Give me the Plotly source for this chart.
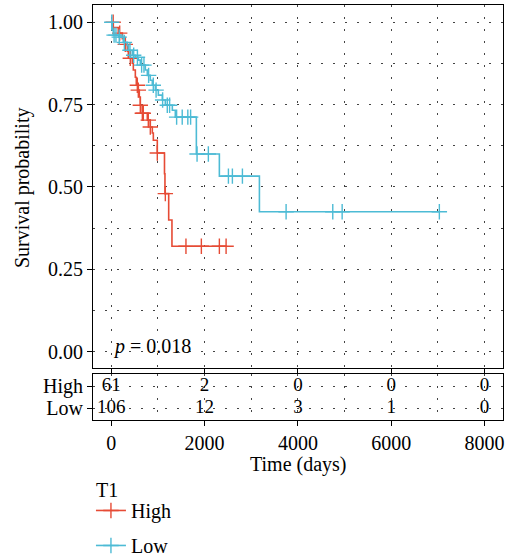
import numpy as np
import plotly.graph_objects as go

# ---------------- data ----------------
time_high = [0, 43, 150, 236, 300, 343, 365, 450, 472, 515, 536, 579, 600, 622, 665,
             772, 836, 879, 901, 986, 1140, 1150, 1230, 1300]
surv_high = [1.0, 0.984, 0.967, 0.950, 0.933, 0.912, 0.891, 0.876, 0.855, 0.833, 0.809,
             0.794, 0.773, 0.748, 0.724, 0.703, 0.682, 0.664, 0.642, 0.603, 0.54, 0.48,
             0.40, 0.32]
cens_high = [40, 180, 300, 407, 558, 579, 622, 665, 686, 793, 836, 986, 1158,
             1600, 1930, 2316, 2460]
end_high = 2460

time_low = [0, 21, 43, 150, 257, 343, 365, 450, 515, 579, 622, 729, 772, 836, 879,
            944, 1008, 1094, 1158, 1308, 1372, 1823, 2316, 3174]
surv_low = [1.0, 0.976, 0.961, 0.955, 0.939, 0.930, 0.915, 0.900, 0.894, 0.885, 0.870,
            0.855, 0.839, 0.824, 0.809, 0.794, 0.779, 0.764, 0.748, 0.733, 0.712, 0.600,
            0.533, 0.425]
cens_low = [10, 60, 100, 170, 280, 400, 480, 560, 650, 700, 800, 900, 960, 1100, 1200,
            1250, 1400, 1520, 1640, 1700, 1838, 2080, 2510, 2595, 2810, 3746, 4746,
            4947, 7030]
end_low = 7030

groups = ["High", "Low"]
colors = ["#E64B35", "#4DBBD5"]
legend_title = "T1"

risk_times = [0, 2000, 4000, 6000, 8000]
risk_high = [61, 2, 0, 0, 0]
risk_low = [106, 12, 3, 1, 0]

y_ticks = [0, 0.25, 0.5, 0.75, 1.0]
y_ticklabels = ["0.00", "0.25", "0.50", "0.75", "1.00"]
x_ticks = [0, 2000, 4000, 6000, 8000]
p_text = "<i>p</i> = 0.018"

FONT = "Liberation Serif"
FS = 20


def surv_at(times, survs, t):
    idx = np.searchsorted(np.array(times), np.array(t), side="right") - 1
    return list(np.array(survs)[idx])


fig = go.Figure()

curves = [
    (time_high, surv_high, cens_high, end_high),
    (time_low, surv_low, cens_low, end_low),
]
for (tt, ss, cc, ee), name, col in zip(curves, groups, colors):
    fig.add_trace(go.Scatter(
        x=list(tt) + [ee], y=list(ss) + [ss[-1]], mode="lines",
        line=dict(color=col, width=1.6, shape="hv"), showlegend=False,
        xaxis="x", yaxis="y", hoverinfo="skip"))
    fig.add_trace(go.Scatter(
        x=cc, y=surv_at(tt, ss, cc), mode="markers",
        marker=dict(symbol="cross-thin", size=11, line=dict(color=col, width=1.4)),
        showlegend=False, xaxis="x", yaxis="y", hoverinfo="skip"))

# legend entries
for i, (name, col) in enumerate(zip(groups, colors)):
    fig.add_trace(go.Scatter(
        x=[None], y=[None], mode="lines+markers", name=name, legendgroup=name,
        line=dict(color=col, width=1.6),
        marker=dict(symbol="cross-thin", size=11, line=dict(color=col, width=1.4)),
        xaxis="x", yaxis="y"))

# risk table
for row, vals in zip([1, 0], [risk_high, risk_low]):
    fig.add_trace(go.Scatter(
        x=risk_times, y=[row] * len(risk_times), mode="text",
        text=[str(v) for v in vals], textposition="middle center",
        textfont=dict(family=FONT, size=FS - 1, color="black"),
        showlegend=False, xaxis="x2", yaxis="y2", hoverinfo="skip"))

grid = dict(gridcolor="#444444", gridwidth=1, griddash="2px,10px")
xrange = [-392, 8394]

fig.update_layout(
    width=505, height=559,
    margin=dict(l=93, r=2, t=5, b=139, autoexpand=False),
    paper_bgcolor="white", plot_bgcolor="white",
    font=dict(family=FONT, size=FS, color="black"),
    xaxis=dict(domain=[0, 1], anchor="y", range=xrange, tickvals=x_ticks,
               showticklabels=False, ticks="outside", ticklen=5, tickcolor="black",
               showline=True, mirror=True, linecolor="black", linewidth=1,
               showgrid=True, zeroline=False, **grid,
               minor=dict(tickvals=[1000, 3000, 5000, 7000], showgrid=True, ticks="", **grid)),
    yaxis=dict(domain=[0.1253, 1], anchor="x", range=[-0.0495, 1.0525],
               tickvals=y_ticks, ticktext=y_ticklabels, ticks="outside", ticklen=5,
               tickcolor="black", showline=True, mirror=True, linecolor="black",
               linewidth=1, showgrid=True, zeroline=False, **grid,
               minor=dict(tickvals=[0.125, 0.375, 0.625, 0.875], showgrid=True, ticks="", **grid)),
    xaxis2=dict(domain=[0, 1], anchor="y2", range=xrange, tickvals=x_ticks,
                ticks="outside", ticklen=5, tickcolor="black", showline=True,
                mirror=True, linecolor="black", linewidth=1, showgrid=True,
                zeroline=False, **grid,
                minor=dict(tickvals=[1000, 3000, 5000, 7000], showgrid=True, ticks="", **grid)),
    yaxis2=dict(domain=[0, 0.1108], anchor="x2", range=[-0.545, 1.545],
                tickvals=[1, 0], ticktext=groups, ticks="outside", ticklen=5,
                tickcolor="black", showline=True, mirror=True, linecolor="black",
                linewidth=1, showgrid=True, zeroline=False, **grid),
    legend=dict(orientation="v", x=-0.005, y=-0.171, xanchor="left", yanchor="top",
                font=dict(size=FS), tracegroupgap=6, bgcolor="rgba(0,0,0,0)"),
    annotations=[
        dict(text=p_text, x=0, y=0.017, xref="x", yref="y", xanchor="left",
             yanchor="middle", showarrow=False, font=dict(size=FS)),
        dict(text="Survival probability", x=-0.172, y=0.56, xref="paper", yref="paper",
             textangle=-90, showarrow=False, xanchor="center", yanchor="middle",
             font=dict(size=FS)),
        dict(text="Time (days)", x=0.5, y=-0.107, xref="paper", yref="paper",
             showarrow=False, xanchor="center", yanchor="middle", font=dict(size=FS)),
        dict(text=legend_title, x=0.002, y=-0.1687, xref="paper", yref="paper",
             showarrow=False, xanchor="left", yanchor="middle", font=dict(size=FS)),
    ],
)

fig.write_html("out.html")
